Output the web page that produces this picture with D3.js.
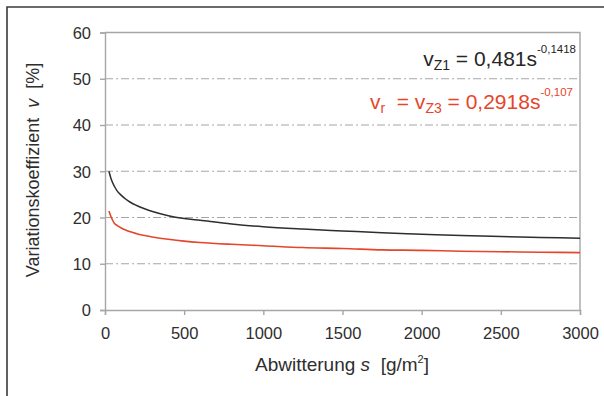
<!DOCTYPE html>
<html><head><meta charset="utf-8">
<script src="https://cdn.jsdelivr.net/npm/d3@7"></script>
<style>
html,body{margin:0;padding:0;background:#fff;}
svg{display:block;font-family:"Liberation Sans",Arial,sans-serif;}
</style></head>
<body>
<script>
const sValues = [25,40,60,80,100,130,160,200,250,300,400,500,600,800,1000,1250,1500,1750,2000,2250,2500,2750,3000];
const vZ1 = [30.0,28.2,26.7,25.6,24.9,24.0,23.3,22.6,21.9,21.3,20.4,19.8,19.4,18.6,18.0,17.5,17.1,16.7,16.4,16.1,15.9,15.7,15.5];
const vR  = [21.4,20.0,18.7,18.2,17.8,17.3,16.9,16.5,16.1,15.8,15.3,14.9,14.6,14.2,13.9,13.5,13.3,13.0,12.9,12.7,12.6,12.5,12.4];
const xTicks = [0,500,1000,1500,2000,2500,3000];
const yTicks = [0,10,20,30,40,50,60];

const W = 604, H = 396;
const svg = d3.select("body").append("svg").attr("width", W).attr("height", H);

// outer frame
svg.append("path").attr("d", `M7,${H} V7 H${W}`).attr("fill","none").attr("stroke","#3a3a3a").attr("stroke-width",1.6);

const x = d3.scaleLinear().domain([0,3000]).range([105,580]);
const y = d3.scaleLinear().domain([0,60]).range([310,32.5]);
const gray = "#a6a6a6";

// grid
svg.append("g").selectAll("line").data(yTicks.filter(d=>d>0&&d<60)).join("line")
  .attr("x1", x(0)).attr("x2", x(3000)).attr("y1", d=>y(d)).attr("y2", d=>y(d))
  .attr("stroke", gray).attr("stroke-width",1.2).attr("stroke-dasharray","8,3,2,3");

// frame top / right
svg.append("path").attr("d", `M${x(0)},${y(60)} H${x(3000)} V${y(0)}`).attr("fill","none").attr("stroke",gray).attr("stroke-width",1.4);

// axes
const xAxis = svg.append("g").attr("transform",`translate(0,${y(0)})`)
  .call(d3.axisBottom(x).tickValues(xTicks).tickSize(5).tickPadding(8).tickFormat(d3.format("d")));
const yAxis = svg.append("g").attr("transform",`translate(${x(0)},0)`)
  .call(d3.axisLeft(y).tickValues(yTicks).tickSize(5).tickPadding(9).tickFormat(d3.format("d")));
[xAxis,yAxis].forEach(a=>{
  a.select(".domain").attr("stroke",gray).attr("stroke-width",1.4);
  a.selectAll(".tick line").attr("stroke",gray).attr("stroke-width",1.4);
  a.selectAll(".tick text").attr("fill","#2e2e2e").attr("font-size",16.5).attr("font-family","'Liberation Sans',Arial,sans-serif");
});
xAxis.selectAll(".tick text").attr("dy","0.95em");
yAxis.selectAll(".tick text").attr("dy","0.36em");

// curves
const line = d3.line().x(d=>x(d[0])).y(d=>y(d[1])).curve(d3.curveMonotoneX);
svg.append("path").datum(sValues.map((s,i)=>[s,vZ1[i]])).attr("d",line)
  .attr("fill","none").attr("stroke","#2e2e2e").attr("stroke-width",1.5);
svg.append("path").datum(sValues.map((s,i)=>[s,vR[i]])).attr("d",line)
  .attr("fill","none").attr("stroke","#e6452b").attr("stroke-width",1.6);

// y title
const yt = svg.append("text").attr("transform","translate(39,170) rotate(-90)")
  .attr("text-anchor","middle").attr("font-size",18).attr("fill","#2e2e2e").attr("xml:space","preserve");
yt.append("tspan").text("Variationskoeffizient  ");
yt.append("tspan").attr("font-style","italic").text("v");
yt.append("tspan").text("  [%]");

// x title
const xt = svg.append("text").attr("x",342).attr("y",371)
  .attr("text-anchor","middle").attr("font-size",19).attr("fill","#2e2e2e").attr("xml:space","preserve");
xt.append("tspan").text("Abwitterung ");
xt.append("tspan").attr("font-style","italic").text("s");
xt.append("tspan").text("  [g/m");
xt.append("tspan").attr("font-size",11).attr("dy",-8).text("2");
xt.append("tspan").attr("dy",8).text("]");

// equations
function eq(parts, xr, yb, color){
  const t = svg.append("text").attr("x",xr).attr("y",yb).attr("text-anchor","end")
    .attr("fill",color).attr("font-size",21).attr("xml:space","preserve");
  parts.forEach(p=>{
    const ts = t.append("tspan").text(p.t);
    if(p.sub){ ts.attr("font-size",14).attr("dy",4); }
    if(p.sup){ ts.attr("font-size",11.5).attr("dy",-13); }
    if(p.back){ ts.attr("dy",p.back); }
  });
}
eq([{t:"v"},{t:"Z1",sub:true},{t:" = 0,481s",back:-4},{t:"-0,1418",sup:true}], 576, 66, "#262626");
eq([{t:"v"},{t:"r",sub:true},{t:"  = v",back:-4},{t:"Z3",sub:true},{t:" = 0,2918s",back:-4},{t:"-0,107",sup:true}], 573, 109, "#e6452b");
</script>
</body></html>
